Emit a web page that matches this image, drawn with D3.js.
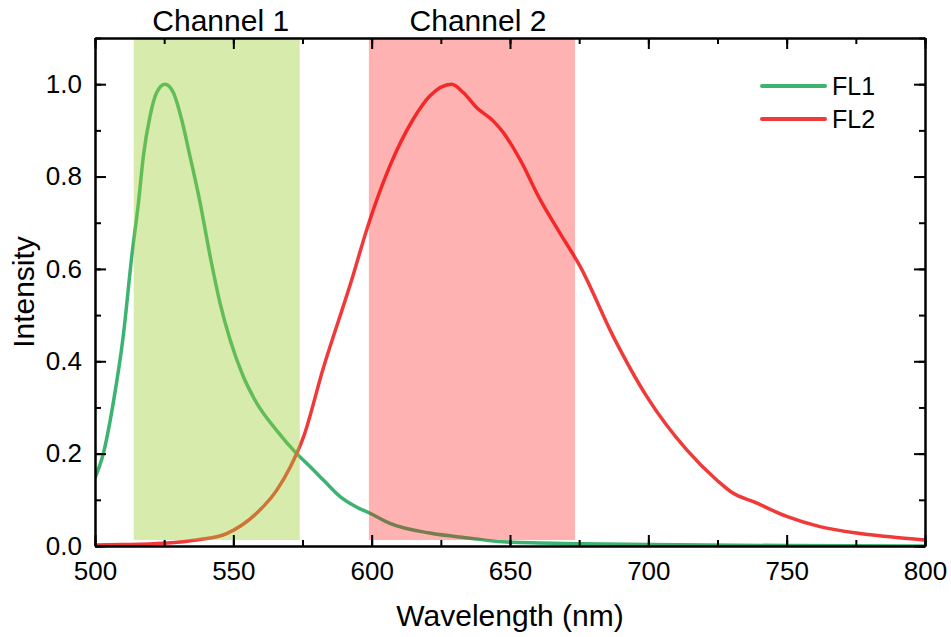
<!DOCTYPE html>
<html>
<head>
<meta charset="utf-8">
<script src="https://cdn.jsdelivr.net/npm/d3@7"></script>
<style>
  body { margin: 0; background: #fff; }
  text { font-family: Arial, "Liberation Sans", sans-serif; fill: #000; }
</style>
</head>
<body>
<div id="chart"></div>
<script>
// data
var fl1X = [500, 503, 506.6, 510.2, 513.3, 515.7, 517.5, 519.9, 522.3, 525.3, 528.3, 531.3, 534.3, 538, 541.6, 545.2, 548.8, 553.6, 558.4, 565.7, 572.9, 577.7, 583, 588.6, 594, 599.4, 606.6, 621, 635.5, 647.6, 676, 700, 750, 800];
var fl1Y = [0.147, 0.20, 0.31, 0.454, 0.628, 0.743, 0.845, 0.931, 0.982, 1.0, 0.982, 0.924, 0.845, 0.743, 0.628, 0.526, 0.447, 0.367, 0.31, 0.25, 0.2, 0.172, 0.14, 0.107, 0.086, 0.071, 0.049, 0.028, 0.017, 0.009, 0.005, 0.003, 0.001, 0.0];

var fl2X = [500, 510, 524.7, 536.7, 547.6, 553, 558.4, 565.7, 570.5, 575.3, 582.5, 592.2, 599.4, 606.6, 615, 621.1, 628.9, 633.1, 638, 644, 647.6, 653.6, 660.8, 668, 675.3, 687.3, 699.4, 713.9, 724.7, 730.7, 738, 750, 762, 775.3, 787.3, 800];
var fl2Y = [0.002, 0.003, 0.006, 0.013, 0.027, 0.045, 0.071, 0.121, 0.17, 0.235, 0.385, 0.565, 0.707, 0.823, 0.924, 0.975, 1.0, 0.982, 0.949, 0.920, 0.895, 0.837, 0.751, 0.678, 0.606, 0.454, 0.324, 0.208, 0.143, 0.114, 0.096, 0.064, 0.042, 0.028, 0.020, 0.013];

var seriesNames = ["FL1", "FL2"];
var channelNames = ["Channel 1", "Channel 2"];
var channelRanges = [[514, 574], [599, 673.5]];
var channelBottom = 0.013;

var xTicks = [500, 550, 600, 650, 700, 750, 800];
var yTicks = [0.0, 0.2, 0.4, 0.6, 0.8, 1.0];

var width = 951;
var height = 637;
var margin = { top: 38, right: 26, bottom: 91, left: 95 };

var svg = d3.select("#chart").append("svg").attr("width", width).attr("height", height);

var xScale = d3.scaleLinear().domain([500, 800]).range([margin.left, width - margin.right]);
var yScale = d3.scaleLinear().domain([0, 1.1]).range([height - margin.bottom, margin.top]);

svg.append("clipPath").attr("id", "clip")
  .append("rect")
  .attr("x", margin.left).attr("y", margin.top)
  .attr("width", width - margin.left - margin.right)
  .attr("height", height - margin.top - margin.bottom);

var colors = ["#3cb371", "#f03a3a"];
var bandColors = ["#9acd32", "#ff0000"];
var bandOpacity = [0.4, 0.3];

// curves
var line = d3.line()
  .x(function(d) { return xScale(d[0]); })
  .y(function(d) { return yScale(d[1]); })
  .curve(d3.curveMonotoneX);

var series = [d3.zip(fl1X, fl1Y), d3.zip(fl2X, fl2Y)];

svg.append("g").attr("clip-path", "url(#clip)")
  .selectAll("path")
  .data(series)
  .enter()
  .append("path")
  .attr("d", line)
  .attr("fill", "none")
  .attr("stroke", function(d, i) { return colors[i]; })
  .attr("stroke-width", 3.5)
  .attr("stroke-linejoin", "round");

// channel bands drawn over the curves
svg.append("g")
  .selectAll("rect")
  .data(channelRanges)
  .enter()
  .append("rect")
  .attr("x", function(d) { return xScale(d[0]); })
  .attr("width", function(d) { return xScale(d[1]) - xScale(d[0]); })
  .attr("y", yScale(1.1))
  .attr("height", yScale(channelBottom) - yScale(1.1))
  .attr("fill", function(d, i) { return bandColors[i]; })
  .attr("fill-opacity", function(d, i) { return bandOpacity[i]; });

svg.append("g")
  .selectAll("text")
  .data(channelNames)
  .enter()
  .append("text")
  .attr("x", function(d, i) { return (xScale(channelRanges[i][0]) + xScale(channelRanges[i][1])) / 2 + (i === 0 ? 4 : 6); })
  .attr("y", 31)
  .attr("text-anchor", "middle")
  .attr("font-size", "30px")
  .text(function(d) { return d; });

// axes, ticks inward on all four sides
var x0 = height - margin.bottom;
var y0 = margin.left;
var minorX = d3.range(500, 801, 25);
var minorY = d3.range(0, 1.101, 0.1);

function styleAxis(g) {
  g.select(".domain").attr("stroke", "#000").attr("stroke-width", 2);
  g.selectAll(".tick line").attr("stroke", "#000").attr("stroke-width", 2);
  g.selectAll(".tick text").attr("font-size", "26px").attr("font-family", "Arial, 'Liberation Sans', sans-serif");
}

svg.append("g").attr("transform", "translate(0," + x0 + ")")
  .call(d3.axisBottom(xScale).tickValues(minorX).tickSize(-6).tickFormat("").tickSizeOuter(0))
  .call(styleAxis);
svg.append("g").attr("transform", "translate(0," + x0 + ")")
  .call(d3.axisBottom(xScale).tickValues(xTicks).tickSize(-11).tickPadding(16).tickSizeOuter(0))
  .call(styleAxis);
svg.append("g").attr("transform", "translate(0," + margin.top + ")")
  .call(d3.axisTop(xScale).tickValues(minorX).tickSize(-6).tickFormat("").tickSizeOuter(0))
  .call(styleAxis);
svg.append("g").attr("transform", "translate(0," + margin.top + ")")
  .call(d3.axisTop(xScale).tickValues(xTicks).tickSize(-11).tickFormat("").tickSizeOuter(0))
  .call(styleAxis);

svg.append("g").attr("transform", "translate(" + y0 + ",0)")
  .call(d3.axisLeft(yScale).tickValues(minorY).tickSize(-6).tickFormat("").tickSizeOuter(0))
  .call(styleAxis);
svg.append("g").attr("transform", "translate(" + y0 + ",0)")
  .call(d3.axisLeft(yScale).tickValues(yTicks).tickSize(-11).tickPadding(13).tickFormat(d3.format(".1f")).tickSizeOuter(0))
  .call(styleAxis);
svg.append("g").attr("transform", "translate(" + (width - margin.right) + ",0)")
  .call(d3.axisRight(yScale).tickValues(minorY).tickSize(-6).tickFormat("").tickSizeOuter(0))
  .call(styleAxis);
svg.append("g").attr("transform", "translate(" + (width - margin.right) + ",0)")
  .call(d3.axisRight(yScale).tickValues(yTicks).tickSize(-11).tickFormat("").tickSizeOuter(0))
  .call(styleAxis);

// axis titles
svg.append("text")
  .attr("x", (margin.left + width - margin.right) / 2)
  .attr("y", 626)
  .attr("text-anchor", "middle")
  .attr("font-size", "30px")
  .text("Wavelength (nm)");

svg.append("text")
  .attr("transform", "translate(34," + ((margin.top + height - margin.bottom) / 2) + ") rotate(-90)")
  .attr("text-anchor", "middle")
  .attr("font-size", "30px")
  .text("Intensity");

// legend
var legend = svg.append("g")
  .selectAll("g")
  .data(seriesNames)
  .enter()
  .append("g")
  .attr("transform", function(d, i) { return "translate(762," + (86 + i * 33) + ")"; });

legend.append("line")
  .attr("x1", 0).attr("x2", 63)
  .attr("stroke", function(d, i) { return colors[i]; })
  .attr("stroke-width", 4)
  .attr("stroke-linecap", "round");

legend.append("text")
  .attr("x", 70)
  .attr("y", 9)
  .attr("font-size", "25px")
  .text(function(d) { return d; });
</script>
</body>
</html>
